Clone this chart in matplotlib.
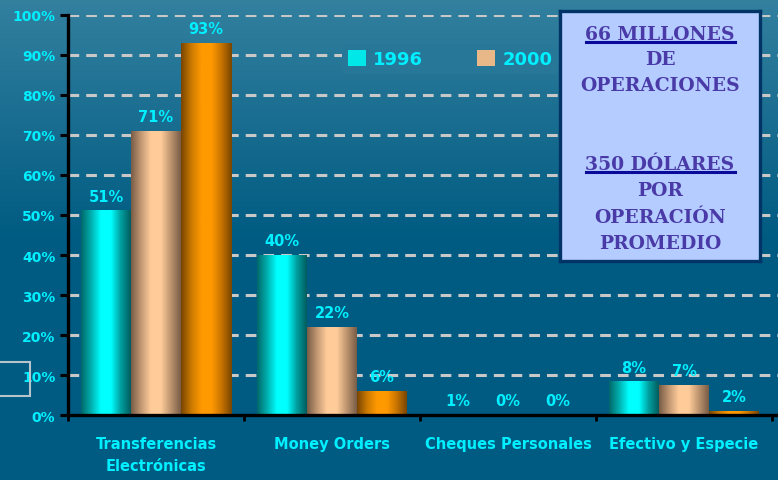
""" Distribucion de remesas por instrumento de envio """

import matplotlib.pyplot as plt
import numpy as np
from matplotlib.colors import LinearSegmentedColormap
from matplotlib.patches import Rectangle, Patch

categorias = ['Transferencias\nElectrónicas', 'Money Orders', 'Cheques Personales', 'Efectivo y Especie']
serie_1996 = [51, 40, 0, 8.3]
serie_2000 = [71, 22, 0, 7.5]
serie_3 = [93, 6, 0, 1]
etiquetas_1996 = ['51%', '40%', '1%', '8%']
etiquetas_2000 = ['71%', '22%', '0%', '7%']
etiquetas_3 = ['93%', '6%', '0%', '2%']
leyenda = ['1996', '2000']
yticks = list(range(0, 101, 10))

W, H = 778, 481
CIAN = '#00F0FF'
fig = plt.figure(figsize=(W / 100, H / 100), dpi=100)

# fondo degradado
bg = fig.add_axes([0, 0, 1, 1], zorder=-10)
t = np.linspace(0, 1, 200)
prof = np.clip(t / 0.5, 0, 1)
top = np.array([0x33, 0x80, 0x9F]) / 255
bot = np.array([0x00, 0x5B, 0x82]) / 255
img = (top[None, :] * (1 - prof[:, None]) + bot[None, :] * prof[:, None])[:, None, :]
bg.imshow(img, aspect='auto', extent=[0, 1, 0, 1], origin='upper')
bg.set_axis_off()

def bg_color(yfrac):
    p = min(max((1 - yfrac) / 0.5, 0), 1)
    return tuple(top * (1 - p) + bot * p)

x0, y0 = 68 / W, 1 - 416 / H
ax = fig.add_axes([x0, y0, 1 - x0, 400 / H])
ax.patch.set_alpha(0)
cat_w = 176
xmax = (W - 68) / cat_w

for y in yticks[1:]:
    ax.axhline(y, color='#C8C8C8', lw=2.2, dashes=(3.5, 2.3), zorder=1)

cmaps = [
    LinearSegmentedColormap.from_list('c', ['#006A6C', '#00B0B0', '#00FFFF', '#00FFFF', '#00A0A0', '#005E60']),
    LinearSegmentedColormap.from_list('t', ['#7A5E48', '#C49A74', '#FFCC99', '#FFCC99', '#BE9570', '#7A5E48']),
    LinearSegmentedColormap.from_list('o', ['#7A4600', '#CC7A00', '#FF9900', '#FF9900', '#C87400', '#7A4600']),
]

bw = 50 / cat_w
xc = np.arange(len(categorias)) + 0.5
grad = np.linspace(0, 1, 64)[None, :]
series = [serie_1996, serie_2000, serie_3]
etiquetas = [etiquetas_1996, etiquetas_2000, etiquetas_3]
for k, (vals, labs, cm) in enumerate(zip(series, etiquetas, cmaps)):
    bars = ax.bar(xc + (k - 1) * bw, vals, bw, color='none', zorder=2)
    for b, lab in zip(bars, labs):
        bx, bh = b.get_x(), b.get_height()
        if bh > 0:
            ax.imshow(grad, cmap=cm, aspect='auto', extent=[bx, bx + bw, 0, bh], zorder=2)
        ax.text(bx + bw / 2, bh + 1.8, lab, ha='center', va='bottom', color=CIAN,
                fontsize=10.5, fontweight='bold', zorder=4)
ax.set_xlim(0, xmax)
ax.set_ylim(0, 100)

for s in ['top', 'right']:
    ax.spines[s].set_visible(False)
for s in ['left', 'bottom']:
    ax.spines[s].set_linewidth(2.4)
    ax.spines[s].set_color('black')
ax.spines['left'].set_zorder(5)

ax.set_yticks(yticks)
ax.set_yticklabels([f'{v}%' for v in yticks])
ax.tick_params(axis='y', direction='out', length=6, width=2.2, color='black',
               labelcolor=CIAN, labelsize=10, pad=3)
ax.set_xticks(range(len(categorias) + 1))
ax.set_xticklabels([])
ax.tick_params(axis='x', which='major', direction='out', length=4, width=2, color='black')
ax.set_xticks(xc, minor=True)
ax.set_xticklabels(categorias, minor=True, linespacing=1.6)
ax.tick_params(axis='x', which='minor', length=0, labelcolor=CIAN, labelsize=10.5, pad=15)
for lab in ax.get_yticklabels() + ax.get_xticklabels(minor=True):
    lab.set_fontweight('bold')

handles = [Patch(facecolor='#00E8E8', edgecolor='none'), Patch(facecolor='#E8B888', edgecolor='none')]
leg = fig.legend(handles, leyenda, loc='center', bbox_to_anchor=(450 / W, 1 - 60 / H), ncol=2,
                 frameon=True, fontsize=13, handlelength=1.0, handleheight=1.05,
                 columnspacing=3.0, handletextpad=0.4, borderpad=0.3, borderaxespad=0)
leg.get_frame().set_facecolor(bg_color(1 - 58 / H))
leg.get_frame().set_edgecolor('none')
leg.get_frame().set_alpha(1)
for tx in leg.get_texts():
    tx.set_color(CIAN)
    tx.set_fontweight('bold')

# cuadro de texto
box = fig.add_axes([560 / W, 1 - 262 / H, 200 / W, 250 / H])
box.set_xlim(0, 200)
box.set_ylim(250, 0)
box.set_facecolor('#B4CCFF')
box.set_xticks([])
box.set_yticks([])
for s in box.spines.values():
    s.set_color('#003366')
    s.set_linewidth(2.4)
lineas = [('66 MILLONES', 28), ('DE', 53), ('OPERACIONES', 79), ('350 DÓLARES', 158),
          ('POR', 184), ('OPERACIÓN', 211), ('PROMEDIO', 237)]
for txt, yy in lineas:
    box.text(100, yy, txt, ha='center', va='baseline', color='#4A3AA8', family='DejaVu Serif',
             fontsize=13.5, fontweight='bold')
box.plot([26, 175], [31, 31], color='#0A0A9A', lw=2.2)
box.plot([26, 175], [161, 161], color='#0A0A9A', lw=2.2)

fig.patches.append(Rectangle((-0.01, 1 - 397 / H), 30 / W + 0.01, 34 / H, transform=fig.transFigure,
                             facecolor='none', edgecolor='#B8C4CC', lw=1.5))

fig.savefig('out.png', dpi=100)
